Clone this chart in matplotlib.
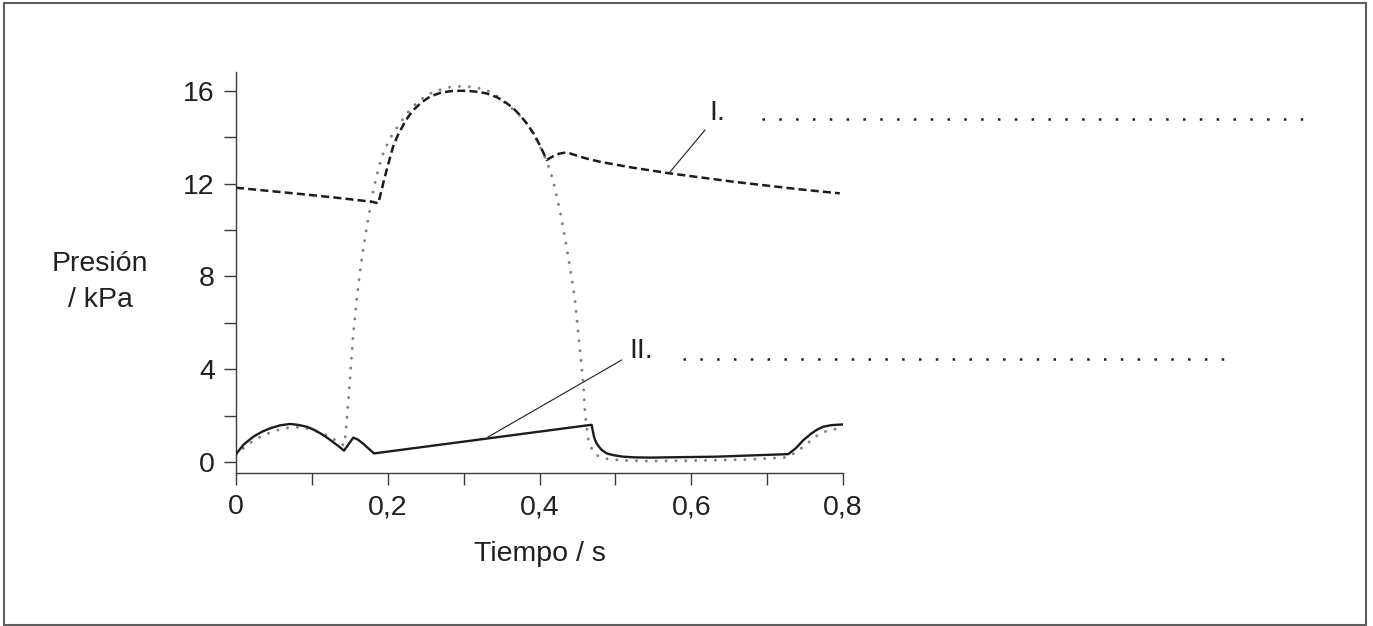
import matplotlib
matplotlib.use("Agg")
import matplotlib.pyplot as plt
from matplotlib.lines import Line2D
from matplotlib.patches import Rectangle
from matplotlib.ticker import FixedLocator, FuncFormatter

plt.rcParams['font.family'] = ['Liberation Sans', 'DejaVu Sans']
plt.rcParams['lines.scale_dashes'] = False

# ---------------- data ----------------
# Curve I (dashed): aortic pressure
t_I = [0.0, 0.0448, 0.0887, 0.1327, 0.1788, 0.1876, 0.191, 0.194, 0.1986, 0.203,
       0.207, 0.2135, 0.2205, 0.227, 0.2337, 0.2445, 0.2557, 0.270, 0.2864, 0.304,
       0.317, 0.330, 0.344, 0.357, 0.366, 0.374, 0.383, 0.392, 0.401, 0.4095,
       0.418, 0.426, 0.433, 0.440, 0.450, 0.462, 0.4797, 0.520, 0.572, 0.6554,
       0.7437, 0.7958]
p_I = [11.82, 11.68, 11.54, 11.39, 11.22, 11.15, 11.60, 12.01, 12.59, 13.12,
       13.59, 14.10, 14.53, 14.88, 15.17, 15.50, 15.75, 15.92, 16.0, 16.0,
       15.96, 15.89, 15.72, 15.46, 15.23, 14.96, 14.60, 14.17, 13.62, 13.02,
       13.18, 13.29, 13.33, 13.30, 13.20, 13.08, 12.94, 12.70, 12.44, 12.08,
       11.75, 11.58]

# Grey dotted: ventricular pressure
t_V = [0.0, 0.01, 0.02, 0.03, 0.04, 0.05, 0.06, 0.07, 0.08, 0.09,
       0.10, 0.11, 0.12, 0.128, 0.135, 0.1423, 0.1445, 0.1459, 0.148, 0.1502,
       0.1524, 0.1546, 0.157, 0.159, 0.163, 0.1678, 0.1722, 0.1766, 0.181, 0.185,
       0.190, 0.194, 0.200, 0.207, 0.2205, 0.231, 0.2425, 0.2535, 0.2645, 0.280,
       0.2996, 0.315, 0.330, 0.345, 0.361, 0.372, 0.383, 0.392, 0.4006, 0.4075,
       0.4138, 0.4185, 0.4227, 0.427, 0.431, 0.4355, 0.440, 0.4435, 0.4468, 0.451,
       0.4556, 0.458, 0.460, 0.4645, 0.469, 0.475, 0.483, 0.493, 0.510, 0.5456,
       0.600, 0.677, 0.7258, 0.737, 0.748, 0.759, 0.770, 0.785, 0.800]
p_V = [0.30, 0.60, 0.85, 1.05, 1.20, 1.33, 1.42, 1.48, 1.50, 1.47,
       1.40, 1.29, 1.15, 1.00, 0.85, 0.72, 1.20, 1.81, 2.60, 3.53,
       4.55, 5.55, 6.30, 6.98, 8.10, 9.20, 10.10, 10.90, 11.70, 12.30,
       12.90, 13.30, 13.75, 14.17, 14.80, 15.25, 15.60, 15.85, 16.00, 16.15,
       16.20, 16.15, 16.03, 15.75, 15.31, 15.00, 14.60, 14.15, 13.60, 13.10,
       12.59, 12.05, 11.44, 10.80, 10.14, 9.30, 8.42, 7.70, 6.98, 5.55,
       4.11, 3.25, 2.10, 0.95, 0.55, 0.30, 0.18, 0.11, 0.07, 0.04,
       0.06, 0.11, 0.20, 0.40, 0.66, 0.97, 1.24, 1.40, 1.45]

# Curve II (solid): atrial pressure
t_II = [0.0, 0.010, 0.0228, 0.034, 0.0448, 0.058, 0.0712, 0.082, 0.0932, 0.102,
        0.111, 0.120, 0.1283, 0.136, 0.1423, 0.1546, 0.160, 0.168, 0.175, 0.1819,
        0.4675, 0.4687, 0.4705, 0.4718, 0.4735, 0.4753, 0.4786, 0.482, 0.4886, 0.498,
        0.510, 0.525, 0.5456, 0.6335, 0.728, 0.738, 0.748, 0.758, 0.766, 0.774,
        0.785, 0.800]
p_II = [0.34, 0.75, 1.09, 1.30, 1.45, 1.58, 1.64, 1.60, 1.52, 1.40,
        1.24, 1.05, 0.85, 0.66, 0.49, 1.05, 0.98, 0.78, 0.57, 0.37,
        1.60, 1.60, 1.30, 1.09, 0.93, 0.80, 0.65, 0.52, 0.37, 0.29,
        0.23, 0.20, 0.19, 0.23, 0.34, 0.60, 0.95, 1.22, 1.40, 1.52,
        1.59, 1.62]

x_major = [0.0, 0.2, 0.4, 0.6, 0.8]
x_minor = [0.1, 0.3, 0.5, 0.7]
y_major = [0, 4, 8, 12, 16]
y_minor = [2, 6, 10, 14]

xlabel = "Tiempo / s"
ylabel = "Presión\n/ kPa"
label_I = "I."
label_II = "II."

# ---------------- figure ----------------
W, H = 1373, 626
fig = plt.figure(figsize=(W / 100, H / 100), dpi=100)
fig.patch.set_facecolor('white')

def fx(px):
    return px / W

def fy(py):
    return 1 - py / H

ax = fig.add_axes([fx(236), fy(473), (843 - 236) / W, (473 - 72) / H])
ax.set_xlim(0, 0.8)
ax.set_ylim(-0.474, 16.81)

txt = '#231f20'
ink = '#1c1c1c'

ax.plot(t_V, p_V, color='#7f7f7f', lw=2.1, dashes=(0.1, 7.0),
        dash_capstyle='round', solid_capstyle='round', zorder=2)
ax.plot(t_I, p_I, color=ink, lw=1.8, dashes=(5.8, 3.0), zorder=3)
ax.plot(t_II, p_II, color=ink, lw=1.7, zorder=3)

for s in ['top', 'right']:
    ax.spines[s].set_visible(False)
for s in ['left', 'bottom']:
    ax.spines[s].set_color('#3a3a3a')
    ax.spines[s].set_linewidth(1.0)

ax.xaxis.set_major_locator(FixedLocator(x_major))
ax.xaxis.set_minor_locator(FixedLocator(x_minor))
ax.yaxis.set_major_locator(FixedLocator(y_major))
ax.yaxis.set_minor_locator(FixedLocator(y_minor))
ax.xaxis.set_major_formatter(FuncFormatter(lambda v, p: ('%g' % v).replace('.', ',')))
ax.yaxis.set_major_formatter(FuncFormatter(lambda v, p: '%d' % v))
ax.tick_params(which='both', direction='out', length=8.3, width=1.0, color='#3a3a3a')
ax.tick_params(axis='x', which='major', pad=7.0, labelsize=20.5, labelcolor=txt)
ax.tick_params(axis='y', which='major', pad=7.0, labelsize=20.5, labelcolor=txt)

ax.set_xlabel(xlabel, fontsize=20.5, color=txt)
ax.xaxis.set_label_coords(0.5, -(541 - 473) / 401)
ax.set_ylabel(ylabel, fontsize=20.5, color=txt, rotation=0, ha='center', va='center',
              linespacing=1.5, multialignment='center')
ax.yaxis.set_label_coords((100 - 236) / 607, (473 - 282) / 401)

# annotations
fig.text(fx(709), fy(120), label_I, fontsize=20.5, color=txt, ha='left', va='baseline')
fig.text(fx(629), fy(358), label_II, fontsize=20.5, color=txt, ha='left', va='baseline')
fig.add_artist(Line2D([fx(705), fx(670)], [fy(130), fy(172)], color=ink, lw=0.8))
fig.add_artist(Line2D([fx(621.7), fx(488)], [fy(360), fy(437)], color=ink, lw=0.8))
fig.add_artist(Line2D([fx(761.7), fx(1302.5)], [fy(119.3), fy(119.3)], color=ink,
                      lw=1.8, dashes=(1.8, 10.31), dash_capstyle='butt'))
fig.add_artist(Line2D([fx(682.7), fx(1223.5)], [fy(359.3), fy(359.3)], color=ink,
                      lw=1.8, dashes=(1.8, 10.31), dash_capstyle='butt'))

# outer frame
fig.add_artist(Rectangle((fx(4.3), fy(625)), (1365.7 - 4.3) / W, (625 - 2.7) / H,
                         transform=fig.transFigure, fill=False, edgecolor='#5f5f5f', lw=1.5))

fig.savefig('out.png', dpi=100, facecolor='white')
